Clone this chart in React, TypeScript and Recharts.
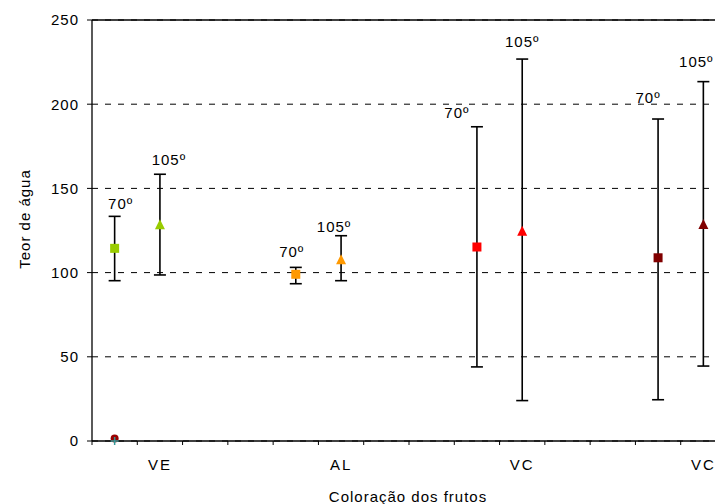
import { ScatterChart, Scatter, XAxis, YAxis, CartesianGrid, ErrorBar, ReferenceLine, Label } from "recharts";

// values (Teor de água per fruit colour, 70º and 105º)
const CATEGORIES = ["VE", "AL", "VC", "VC"];
const TEMPS = ["70º", "105º"];
const MEAN_70 = [114.4, 99, 115.2, 108.8];
const HIGH_70 = [133.4, 103.1, 186.6, 191.2];
const LOW_70 = [95.2, 93.4, 44, 24.5];
const MEAN_105 = [128.7, 107.9, 124.9, 128.9];
const HIGH_105 = [158.4, 121.9, 226.8, 213.4];
const LOW_105 = [98.6, 95.2, 24, 44.5];
const Y_TICKS = [0, 50, 100, 150, 200, 250];
// stray marks sitting on the origin in the source chart
const STRAY_DOT = [{ x: 0.5, y: 1.5 }];
const STRAY_PLUS = [{ x: 0.5, y: 0 }];

const COLORS = ["#99CC00", "#FF9900", "#FF0000", "#800000"];
// hand-placed label offsets [dx, gap above bar top]
const NUDGE_70 = [[6, 7], [-4, 10], [-20, 9], [-10, 16]];
const NUDGE_105 = [[9, 9], [-7, 4], [0, 12], [-7, 15]];

const FONT = "Arial, 'Liberation Sans', sans-serif";
const GROUP = 4;

const build = (mean: number[], high: number[], low: number[], offset: number) =>
  mean.map((v, i) => ({
    x: i * GROUP + offset,
    y: v,
    err: [v - low[i], high[i] - v],
    color: COLORS[i],
  }));

const buildLabels = (high: number[], nudge: number[][], offset: number, text: string) =>
  high.map((h, i) => ({ x: i * GROUP + offset, y: h, dx: nudge[i][0], dy: nudge[i][1], text }));

const data70 = build(MEAN_70, HIGH_70, LOW_70, 0.5);
const data105 = build(MEAN_105, HIGH_105, LOW_105, 1.5);
const labels = [
  ...buildLabels(HIGH_70, NUDGE_70, 0.5, TEMPS[0]),
  ...buildLabels(HIGH_105, NUDGE_105, 1.5, TEMPS[1]),
];

const catTicks = CATEGORIES.map((_, i) => i * GROUP + 1.5);
const unitTicks = Array.from({ length: CATEGORIES.length * GROUP - 1 }, (_, i) => i);
const xTicks = [...unitTicks, ...catTicks].sort((a, b) => a - b);

const Nothing = () => <g />;

const Square = (p: any) => (
  <rect x={p.cx - 4.5} y={p.cy - 4.5} width={9} height={9} fill={p.payload.color} />
);

const Triangle = (p: any) => (
  <polygon
    points={`${p.cx - 5},${p.cy + 5} ${p.cx + 5},${p.cy + 5} ${p.cx},${p.cy - 5}`}
    fill={p.payload.color}
  />
);

const PointLabel = (p: any) => (
  <text
    x={p.cx + p.payload.dx}
    y={p.cy - p.payload.dy}
    textAnchor="middle"
    fontSize={15}
    letterSpacing={1}
    fontFamily={FONT}
    fill="#000"
  >
    {p.payload.text}
  </text>
);

const Dot = (p: any) => <circle cx={p.cx} cy={p.cy} r={4} fill="#990000" />;
const Plus = (p: any) => (
  <g stroke="#339999" strokeWidth={1.5}>
    <line x1={p.cx - 4} x2={p.cx + 4} y1={p.cy} y2={p.cy} />
    <line x1={p.cx} x2={p.cx} y1={p.cy - 4} y2={p.cy + 4} />
  </g>
);

const XTick = (p: any) => {
  const v = p.payload.value;
  if (Number.isInteger(v)) {
    return <line x1={p.x} x2={p.x} y1={p.y} y2={p.y + 4} stroke="#000" />;
  }
  const idx = catTicks.indexOf(v);
  return (
    <text
      x={p.x}
      y={p.y + 29}
      textAnchor="middle"
      fontSize={15}
      letterSpacing={2}
      fontFamily={FONT}
      fill="#000"
    >
      {CATEGORIES[idx]}
    </text>
  );
};

export default function App() {
  return (
    <div
      style={{
        position: "fixed",
        left: 0,
        top: 0,
        width: 715,
        height: 504,
        overflow: "hidden",
        background: "#fff",
      }}
    >
      <ScatterChart width={736} height={504} margin={{ top: 20, right: 10, bottom: 0, left: 0 }}>
        <CartesianGrid vertical={false} stroke="#000" strokeDasharray="6 7" />
        <XAxis
          type="number"
          dataKey="x"
          domain={[0, CATEGORIES.length * GROUP - 2]}
          ticks={xTicks}
          interval={0}
          tick={<XTick />}
          tickLine={false}
          tickSize={0}
          tickMargin={0}
          height={63}
          axisLine={{ stroke: "#000", strokeWidth: 1.3 }}
          allowDataOverflow
        >
          <Label
            content={() => (
              <text
                x={408}
                y={502}
                textAnchor="middle"
                fontSize={15}
                letterSpacing={1}
                fontFamily={FONT}
                fill="#000"
              >
                Coloração dos frutos
              </text>
            )}
          />
        </XAxis>
        <YAxis
          type="number"
          dataKey="y"
          domain={[0, 250]}
          ticks={Y_TICKS}
          width={92}
          tickSize={5}
          tickMargin={8}
          tick={{ fontSize: 15, fill: "#000", fontFamily: FONT, letterSpacing: 1 }}
          tickLine={{ stroke: "#000" }}
          axisLine={{ stroke: "#000", strokeWidth: 1.3 }}
        >
          <Label
            content={() => (
              <text
                x={30}
                y={219}
                textAnchor="middle"
                fontSize={15}
                letterSpacing={1}
                fontFamily={FONT}
                fill="#000"
                transform="rotate(-90, 30, 219)"
              >
                Teor de água
              </text>
            )}
          />
        </YAxis>
        <ReferenceLine y={250} stroke="#000" strokeWidth={1.3} />
        {/* whiskers first, markers drawn on top */}
        <Scatter data={data70} shape={<Nothing />} isAnimationActive={false}>
          <ErrorBar dataKey="err" direction="y" width={6} stroke="#000" strokeWidth={1.6} />
        </Scatter>
        <Scatter data={data105} shape={<Nothing />} isAnimationActive={false}>
          <ErrorBar dataKey="err" direction="y" width={6} stroke="#000" strokeWidth={1.6} />
        </Scatter>
        <Scatter data={data70} shape={<Square />} isAnimationActive={false} />
        <Scatter data={data105} shape={<Triangle />} isAnimationActive={false} />
        <Scatter data={labels} shape={<PointLabel />} isAnimationActive={false} />
        <Scatter data={STRAY_DOT} shape={<Dot />} isAnimationActive={false} />
        <Scatter data={STRAY_PLUS} shape={<Plus />} isAnimationActive={false} />
      </ScatterChart>
    </div>
  );
}
